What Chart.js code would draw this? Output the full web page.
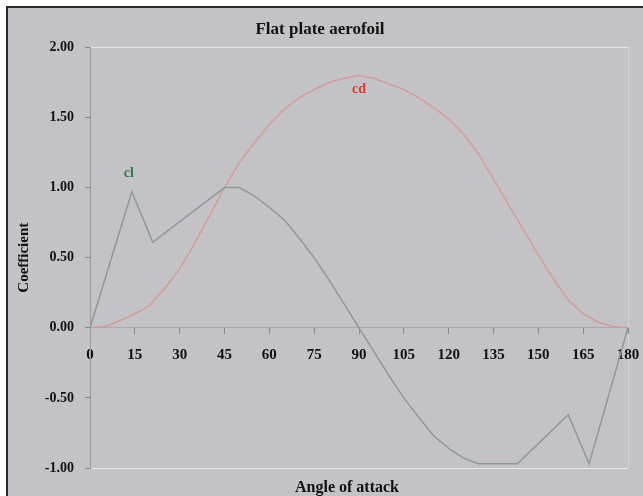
<!DOCTYPE html>
<html>
<head>
<meta charset="utf-8">
<script src="https://cdn.jsdelivr.net/npm/chart.js@4.4.0/dist/chart.umd.min.js"></script>
<style>
  body { margin: 0; background: #ffffff; }
  #wrap { position: absolute; left: 0; top: 0; width: 643px; height: 496px; }
</style>
</head>
<body>
<div id="wrap"><canvas id="aero-chart" width="643" height="496"></canvas></div>
<script>
// angle of attack (deg) and coefficients
const clAngles = [0, 14, 21, 45, 50, 55, 60, 65, 70, 75, 80, 85, 90, 95, 100, 105, 110, 115, 120, 125, 130, 143, 160, 167, 180];
const clValues = [0, 0.97, 0.61, 1.0, 1.0, 0.94, 0.86, 0.77, 0.64, 0.5, 0.34, 0.17, 0, -0.17, -0.34, -0.5, -0.64, -0.77, -0.86, -0.93, -0.97, -0.97, -0.62, -0.97, 0];

const cdAngles = [0, 5, 10, 15, 20, 25, 30, 35, 40, 45, 50, 55, 60, 65, 70, 75, 80, 85, 90, 95, 100, 105, 110, 115, 120, 125, 130, 135, 140, 145, 150, 155, 160, 165, 170, 175, 180];
const cdValues = [0, 0.01, 0.05, 0.1, 0.16, 0.28, 0.42, 0.6, 0.8, 1.0, 1.18, 1.32, 1.45, 1.56, 1.64, 1.7, 1.75, 1.78, 1.8, 1.78, 1.74, 1.7, 1.64, 1.57, 1.49, 1.38, 1.24, 1.06, 0.88, 0.7, 0.52, 0.35, 0.2, 0.1, 0.04, 0.01, 0];

const xTicks = [0, 15, 30, 45, 60, 75, 90, 105, 120, 135, 150, 165, 180];
const yTicks = [-1, -0.5, 0, 0.5, 1, 1.5, 2];

// where the series names sit (data coords)
const seriesLabels = [
  { text: "cl", x: 13, y: 1.1, color: "#2e7a52" },
  { text: "cd", x: 90, y: 1.7, color: "#e23b2a" }
];

const xAxisTitle = "Angle of attack";

const serif = "'Liberation Serif', 'DejaVu Serif', serif";

const toPoints = (xs, ys) => xs.map((x, i) => ({ x: x, y: ys[i] }));

// gray panel with dark border on left/top
const backdrop = {
  id: "backdrop",
  beforeDraw(chart) {
    const c = chart.ctx;
    c.save();
    c.fillStyle = "#ffffff";
    c.fillRect(0, 0, chart.width, chart.height);
    c.fillStyle = "#c3c3c7";
    c.fillRect(7, 7, chart.width - 7, chart.height - 7);
    c.fillStyle = "#2a2a2a";
    c.fillRect(6, 6, chart.width - 6, 2);
    c.fillRect(6, 6, 2, chart.height - 6);
    c.restore();
  }
};

// curve names + x axis title (axis sits at y=0 so its own title would be in the middle)
const extraText = {
  id: "extraText",
  afterDatasetsDraw(chart) {
    const c = chart.ctx;
    const xs = chart.scales.x, ys = chart.scales.y;
    const area = chart.chartArea;
    c.save();
    c.textAlign = "center";
    c.textBaseline = "middle";
    c.font = "bold 14px " + serif;
    seriesLabels.forEach(l => {
      c.fillStyle = l.color;
      c.fillText(l.text, xs.getPixelForValue(l.x), ys.getPixelForValue(l.y));
    });
    c.fillStyle = "#111111";
    c.font = "bold 16px " + serif;
    c.fillText(xAxisTitle, (area.left + area.right) / 2 - 12, area.bottom + 20);
    c.restore();
  }
};

const chartCanvas = document.getElementById("aero-chart");

new Chart(chartCanvas, {
  type: "line",
  data: {
    datasets: [
      {
        label: "cl",
        data: toPoints(clAngles, clValues),
        borderColor: "#8e9a94",
        borderWidth: 1.5,
        pointRadius: 0,
        tension: 0
      },
      {
        label: "cd",
        data: toPoints(cdAngles, cdValues),
        borderColor: "#d59c9c",
        borderWidth: 1.5,
        pointRadius: 0,
        tension: 0
      }
    ]
  },
  plugins: [backdrop, extraText],
  options: {
    responsive: false,
    animation: false,
    layout: { padding: { left: 12, right: 15, top: 14, bottom: 28 } },
    plugins: {
      legend: { display: false },
      tooltip: { enabled: false },
      title: {
        display: true,
        text: "Flat plate aerofoil",
        color: "#111111",
        font: { family: serif, size: 17, weight: "bold" },
        padding: { top: 5, bottom: 8 }
      }
    },
    scales: {
      x: {
        type: "linear",
        position: { y: 0 },
        min: 0,
        max: 180,
        afterBuildTicks: s => { s.ticks = xTicks.map(v => ({ value: v })); },
        afterFit: s => { s.paddingLeft = 0; s.paddingRight = 0; },
        ticks: {
          color: "#111111",
          font: { family: serif, size: 15, weight: "bold" },
          padding: 12,
          maxRotation: 0
        },
        grid: {
          color: ctx => (ctx.tick && ctx.tick.value === 180) ? "#d4d4d8" : "transparent",
          tickColor: "#8a8a8e",
          tickLength: 6
        },
        border: { display: true, color: "#a9a9ae" }
      },
      y: {
        min: -1,
        max: 2,
        afterBuildTicks: s => { s.ticks = yTicks.map(v => ({ value: v })); },
        afterFit: s => { s.width = 78; },
        ticks: {
          color: "#111111",
          font: { family: serif, size: 14, weight: "bold" },
          padding: 11,
          callback: v => v.toFixed(2)
        },
        grid: {
          color: ctx => (ctx.tick && (ctx.tick.value === 2 || ctx.tick.value === -1)) ? "#e6e6ea" : "transparent",
          tickColor: "#8a8a8e",
          tickLength: 5
        },
        border: { display: true, color: "#9a9a9f" },
        title: {
          display: true,
          text: "Coefficient",
          color: "#111111",
          font: { family: serif, size: 15, weight: "bold" },
          padding: 3
        }
      }
    }
  }
});
</script>
</body>
</html>
